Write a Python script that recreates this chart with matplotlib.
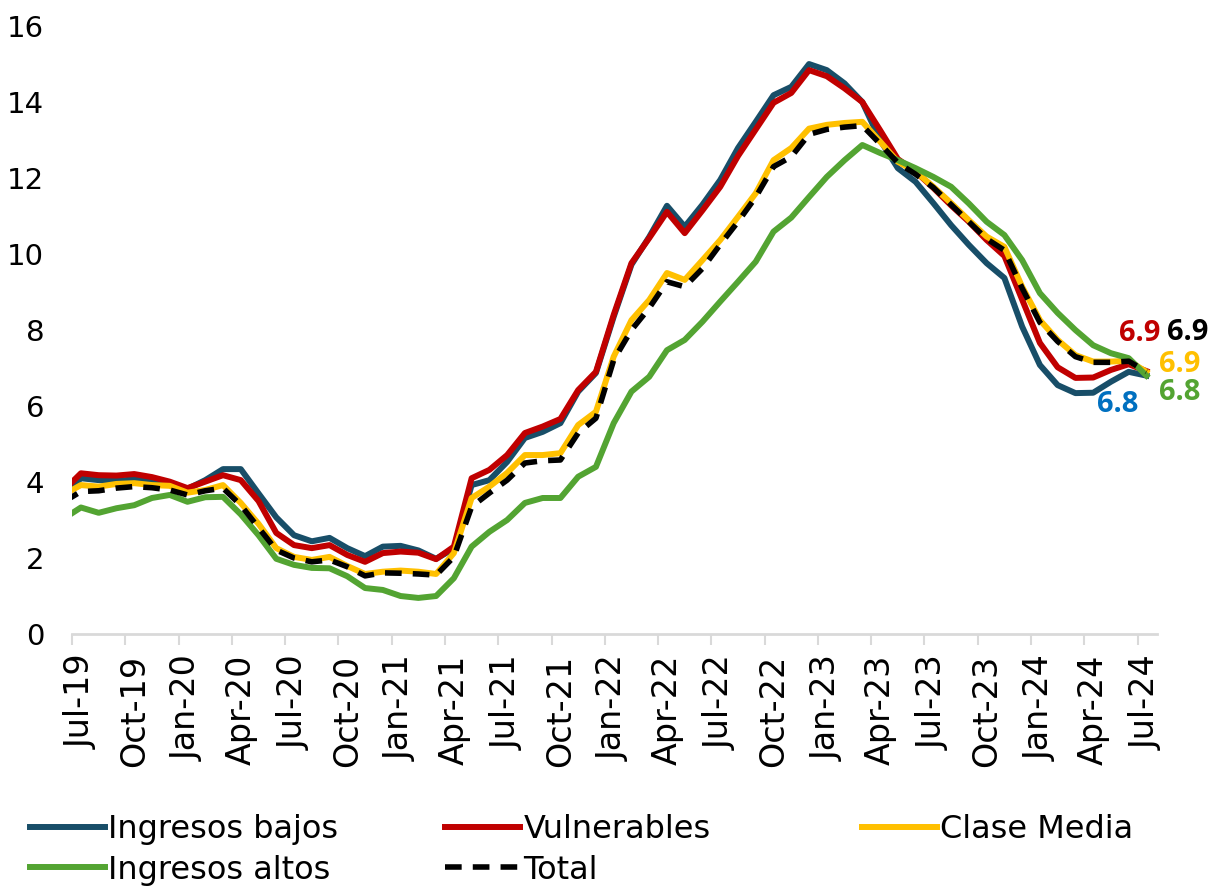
import matplotlib
matplotlib.use("Agg")
import matplotlib.pyplot as plt
import numpy as np

# Months: Jun-19 (partly clipped at the left edge) .. Jul-24
months = ["Jun-19",
          "Jul-19", "Aug-19", "Sep-19", "Oct-19", "Nov-19", "Dec-19",
          "Jan-20", "Feb-20", "Mar-20", "Apr-20", "May-20", "Jun-20",
          "Jul-20", "Aug-20", "Sep-20", "Oct-20", "Nov-20", "Dec-20",
          "Jan-21", "Feb-21", "Mar-21", "Apr-21", "May-21", "Jun-21",
          "Jul-21", "Aug-21", "Sep-21", "Oct-21", "Nov-21", "Dec-21",
          "Jan-22", "Feb-22", "Mar-22", "Apr-22", "May-22", "Jun-22",
          "Jul-22", "Aug-22", "Sep-22", "Oct-22", "Nov-22", "Dec-22",
          "Jan-23", "Feb-23", "Mar-23", "Apr-23", "May-23", "Jun-23",
          "Jul-23", "Aug-23", "Sep-23", "Oct-23", "Nov-23", "Dec-23",
          "Jan-24", "Feb-24", "Mar-24", "Apr-24", "May-24", "Jun-24",
          "Jul-24"]

ingresos_bajos = [3.64,
    4.10, 4.05, 4.03, 4.07, 4.00, 3.97, 3.82, 4.05, 4.34, 4.34, 3.70, 3.07,
    2.60, 2.44, 2.53, 2.26, 2.05, 2.30, 2.32, 2.20, 1.98, 2.25, 3.92, 4.05,
    4.53, 5.16, 5.32, 5.55, 6.38, 6.87, 8.35, 9.72, 10.45, 11.27, 10.72, 11.30,
    11.95, 12.79, 13.48, 14.18, 14.40, 15.00, 14.84, 14.49, 14.00, 13.00, 12.26, 11.90,
    11.34, 10.76, 10.24, 9.76, 9.37, 8.09, 7.08, 6.55, 6.34, 6.35, 6.64, 6.90,
    6.80]

vulnerables = [3.77,
    4.23, 4.18, 4.17, 4.21, 4.13, 4.01, 3.84, 4.01, 4.18, 4.05, 3.50, 2.66,
    2.34, 2.26, 2.34, 2.08, 1.90, 2.13, 2.17, 2.14, 1.97, 2.30, 4.10, 4.32,
    4.71, 5.29, 5.46, 5.66, 6.42, 6.90, 8.40, 9.76, 10.42, 11.11, 10.55, 11.15,
    11.77, 12.58, 13.28, 13.98, 14.24, 14.84, 14.68, 14.36, 14.00, 13.26, 12.50, 12.17,
    11.74, 11.28, 10.85, 10.37, 9.95, 8.80, 7.66, 7.02, 6.74, 6.75, 6.95, 7.10,
    6.92]

clase_media = [3.66,
    3.92, 3.88, 3.95, 3.97, 3.92, 3.90, 3.72, 3.79, 3.92, 3.45, 2.90, 2.26,
    2.03, 1.95, 2.03, 1.79, 1.58, 1.64, 1.67, 1.64, 1.58, 2.13, 3.58, 3.88,
    4.24, 4.71, 4.71, 4.76, 5.50, 5.85, 7.30, 8.26, 8.79, 9.50, 9.32, 9.84,
    10.37, 10.98, 11.60, 12.47, 12.79, 13.30, 13.40, 13.45, 13.48, 12.96, 12.43, 12.17,
    11.77, 11.34, 10.89, 10.46, 10.19, 9.14, 8.26, 7.74, 7.34, 7.17, 7.17, 7.19,
    6.90]

ingresos_altos = [3.03,
    3.33, 3.19, 3.31, 3.39, 3.58, 3.66, 3.48, 3.60, 3.61, 3.15, 2.60, 1.98,
    1.82, 1.74, 1.73, 1.52, 1.21, 1.16, 1.00, 0.95, 1.00, 1.47, 2.30, 2.69,
    3.00, 3.45, 3.58, 3.58, 4.14, 4.40, 5.55, 6.38, 6.77, 7.47, 7.74, 8.22,
    8.75, 9.27, 9.80, 10.59, 10.96, 11.50, 12.03, 12.47, 12.87, 12.66, 12.47, 12.26,
    12.03, 11.77, 11.33, 10.85, 10.50, 9.84, 8.97, 8.45, 8.00, 7.60, 7.39, 7.26,
    6.80]

total = [3.47,
    3.75, 3.77, 3.84, 3.88, 3.85, 3.79, 3.66, 3.77, 3.84, 3.39, 2.80, 2.21,
    2.00, 1.90, 1.95, 1.77, 1.53, 1.61, 1.60, 1.58, 1.55, 2.03, 3.35, 3.71,
    4.05, 4.50, 4.56, 4.58, 5.29, 5.68, 7.21, 8.00, 8.58, 9.27, 9.14, 9.62,
    10.25, 10.85, 11.50, 12.30, 12.56, 13.15, 13.28, 13.34, 13.38, 12.90, 12.40, 12.10,
    11.75, 11.30, 10.85, 10.40, 10.10, 9.10, 8.20, 7.70, 7.30, 7.15, 7.15, 7.18,
    6.90]

tick_labels = ["Jul-19", "Oct-19", "Jan-20", "Apr-20", "Jul-20", "Oct-20", "Jan-21",
               "Apr-21", "Jul-21", "Oct-21", "Jan-22", "Apr-22", "Jul-22", "Oct-22",
               "Jan-23", "Apr-23", "Jul-23", "Oct-23", "Jan-24", "Apr-24", "Jul-24"]

end_labels = ["6.9", "6.9", "6.9", "6.8", "6.8"]

C_BAJOS = "#184E68"
C_VULN = "#C00000"
C_MEDIA = "#FFC000"
C_ALTOS = "#53A432"
C_TOTAL = "#000000"
C_BAJOS_LBL = "#0070C0"

plt.rcParams['font.family'] = ['DejaVu Sans']

fig = plt.figure(figsize=(12.11, 8.86), dpi=100)
ax = fig.add_axes([0.0595, 0.2844, 0.896, 0.6862])

x = np.arange(len(months)) - 1  # Jul-19 -> 0

lw = 4.3
l1, = ax.plot(x, ingresos_bajos, color=C_BAJOS, lw=lw, label="Ingresos bajos")
l2, = ax.plot(x, vulnerables, color=C_VULN, lw=lw, label="Vulnerables")
l3, = ax.plot(x, clase_media, color=C_MEDIA, lw=lw, label="Clase Media")
l4, = ax.plot(x, ingresos_altos, color=C_ALTOS, lw=lw, label="Ingresos altos")
l5, = ax.plot(x, total, color=C_TOTAL, lw=4.0, dashes=(3, 2), label="Total")

ax.set_xlim(-0.5, 60.6)
ax.set_ylim(0, 16)
ax.set_yticks(np.arange(0, 17, 2))
ax.tick_params(axis='y', length=0, pad=20, labelsize=21)

# category boundaries as tick marks, labels on category centres
ax.set_xticks(np.arange(-0.5, 61, 3))
ax.set_xticklabels([])
ax.tick_params(axis='x', which='major', length=8, width=1.5, color='#d9d9d9')
ax.set_xticks(np.arange(0, 61, 3), minor=True)
ax.set_xticklabels(tick_labels, minor=True, rotation=90, fontsize=24)
ax.tick_params(axis='x', which='minor', length=0, pad=15)

for s in ['top', 'right', 'left']:
    ax.spines[s].set_visible(False)
ax.spines['bottom'].set_color('#d9d9d9')
ax.spines['bottom'].set_linewidth(2)

# end-point labels
last = len(months) - 1
lbl_kw = dict(textcoords='offset points', fontsize=21, fontweight='bold',
              family=['Open Sans', 'DejaVu Sans'],
              ha='center', va='center', annotation_clip=False)
ax.annotate(end_labels[0], xy=(x[last], vulnerables[last]), xytext=(-5, 27), color=C_VULN, **lbl_kw)
ax.annotate(end_labels[1], xy=(x[last], total[last]), xytext=(30, 28), color=C_TOTAL, **lbl_kw)
ax.annotate(end_labels[2], xy=(x[last], clase_media[last]), xytext=(24, 5), color=C_MEDIA, **lbl_kw)
ax.annotate(end_labels[3], xy=(x[last], ingresos_altos[last]), xytext=(24, -12), color=C_ALTOS, **lbl_kw)
ax.annotate(end_labels[4], xy=(x[last], ingresos_bajos[last]), xytext=(-21, -21), color=C_BAJOS_LBL, **lbl_kw)

leg_kw = dict(loc='upper left', frameon=False, fontsize=23, handlelength=2.35,
              handletextpad=0.1, borderpad=0, borderaxespad=0, labelspacing=0.3)
top = 1 - 814 / 886
fig.legend([l1, l4], ["Ingresos bajos", "Ingresos altos"], bbox_to_anchor=(30 / 1211, top), **leg_kw)
fig.legend([l2, l5], ["Vulnerables", "Total"], bbox_to_anchor=(445 / 1211, top), **leg_kw)
fig.legend([l3], ["Clase Media"], bbox_to_anchor=(862 / 1211, top), **leg_kw)

fig.savefig("out.png", dpi=100)
